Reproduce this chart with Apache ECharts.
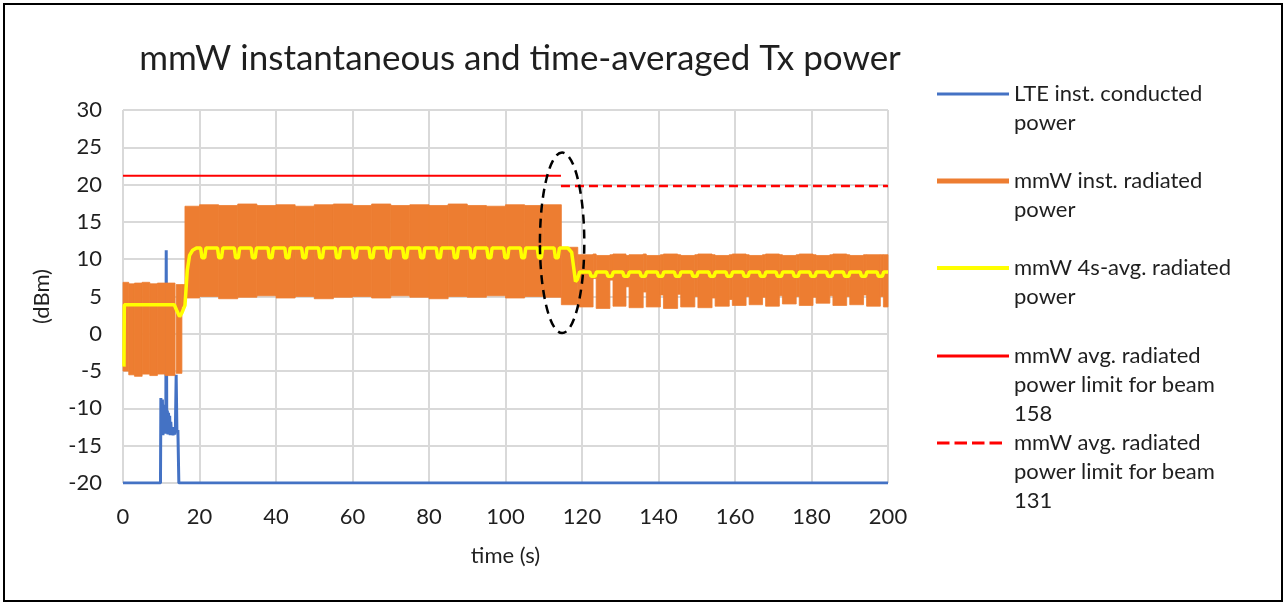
<!DOCTYPE html>
<html><head><meta charset="utf-8">
<script src="https://cdn.jsdelivr.net/npm/echarts@6/dist/echarts.min.js"></script>
<style>html,body{margin:0;padding:0;background:#fff}#c{width:1287px;height:606px}</style>
</head><body><div id="c"></div>
<script>
// ---------- DATA ----------
const seriesNames = [
  'LTE inst. conducted power',
  'mmW inst. radiated power',
  'mmW 4s-avg. radiated power',
  'mmW avg. radiated power limit for beam 158',
  'mmW avg. radiated power limit for beam 131'
];
const legendLabels = [
  'LTE inst. conducted\npower',
  'mmW inst. radiated\npower',
  'mmW 4s-avg. radiated\npower',
  'mmW avg. radiated\npower limit for beam\n158',
  'mmW avg. radiated\npower limit for beam\n131'
];

// LTE instantaneous conducted power [time s, dBm]
const ltePoints = [
  [0,-20],[9.8,-20],[9.9,-8.6],[10.0,-13.5],[10.1,-9.0],[10.2,-13.2],[10.3,-8.8],[10.45,-13.6],
  [10.6,-9.5],[10.75,-13.0],[10.9,-10.0],[11.05,-13.4],[11.2,-11.0],[11.3,11.2],[11.45,-12.8],
  [11.6,-10.3],[11.75,-13.5],[11.9,-10.6],[12.05,-13.3],[12.2,-11.0],[12.35,-13.6],[12.5,-11.8],
  [12.7,-13.5],[12.9,-12.6],[13.1,-13.6],[13.3,-12.5],[13.5,-13.5],[13.7,-12.6],[13.9,-5.5],
  [14.1,-13.2],[14.35,-12.9],[14.6,-20],[200,-20]
];

// mmW instantaneous radiated power, drawn as a band: [t start, t end, low dBm, high dBm]
const instRegion1 = [
  [0,1.5,-5.0,6.9],[1.5,3,-5.5,6.7],[3,5,-5.7,6.8],[5,7,-5.4,6.9],[7,9,-5.6,6.7],
  [9,11,-5.4,6.8],[11,13.6,-5.6,6.8],[13.9,15.4,-5.3,6.6],[15.4,16.2,3.6,6.6]
];
const instRegion2 = [
  [16.2,20,4.8,17.1],[20,25,5.0,17.3],[25,30,4.7,17.2],[30,35,4.9,17.4],[35,40,5.1,17.2],
  [40,45,4.8,17.3],[45,50,5.0,17.1],[50,55,4.7,17.3],[55,60,4.9,17.4],[60,65,5.0,17.2],
  [65,70,4.8,17.4],[70,75,5.1,17.2],[75,80,4.9,17.3],[80,85,4.7,17.2],[85,90,5.0,17.4],
  [90,95,4.9,17.2],[95,100,5.1,17.1],[100,105,4.8,17.3],[105,110,5.0,17.2],[110,114.6,4.9,17.3]
];
const instRegion3 = [
  [114.6,118.9,3.9,11.6]
];
const instRegion4 = [
  [118.9,122.9,3.6,10.6],[122.9,123.7,7.4,10.7],[123.7,127.3,3.4,10.5],[127.3,128.1,7.2,10.6],
  [128.1,131.5,3.7,10.7],[131.5,132.3,6.3,10.5],[132.3,136.0,3.5,10.6],[136.0,136.8,5.6,10.7],
  [136.8,140.5,3.6,10.5],[140.5,141.3,5.2,10.6],[141.3,145.0,3.4,10.7],[145.0,145.8,5.3,10.6],
  [145.8,149.5,3.6,10.5],[149.5,150.3,5.0,10.6],[150.3,154.0,3.5,10.7],[154.0,154.8,4.8,10.6],
  [154.8,158.5,3.7,10.5],[158.5,159.3,4.6,10.6],[159.3,162.9,3.8,10.7],[162.9,163.7,5.0,10.6],
  [163.7,167.2,3.9,10.5],[167.2,168.0,4.9,10.6],[168.0,171.6,3.7,10.7],[171.6,172.4,5.1,10.6],
  [172.4,176.0,4.0,10.5],[176.0,176.8,5.0,10.6],[176.8,180.4,3.8,10.7],[180.4,181.2,4.9,10.6],
  [181.2,184.8,4.1,10.5],[184.8,185.6,5.1,10.6],[185.6,189.2,3.8,10.7],[189.2,190.0,5.0,10.6],
  [190.0,193.6,3.9,10.5],[193.6,194.4,5.2,10.6],[194.4,198.0,3.7,10.6],[198.0,198.8,5.0,10.6],
  [198.8,200,3.6,10.6]
];

// mmW 4 s averaged radiated power [time s, dBm]
const avgRegion1 = [
  [0.25,-4.4],[0.35,3.9],[13.4,3.9],[14.0,3.2],[14.8,2.3],[15.4,2.8],[16.2,3.8],[16.8,8.5],
  [17.4,10.5],[18.2,11.2],[19.2,11.5]
];
const avgRegion2 = [
  [20.3,11.5],[20.65,10.2],[21.35,10.2],[21.7,11.5],
  [24.7,11.5],[25.05,10.2],[25.75,10.2],[26.1,11.5],
  [29.1,11.5],[29.45,10.2],[30.15,10.2],[30.5,11.5],
  [33.5,11.5],[33.85,10.2],[34.55,10.2],[34.9,11.5],
  [37.9,11.5],[38.25,10.2],[38.95,10.2],[39.3,11.5],
  [42.3,11.5],[42.65,10.2],[43.35,10.2],[43.7,11.5],
  [46.7,11.5],[47.05,10.2],[47.75,10.2],[48.1,11.5],
  [51.1,11.5],[51.45,10.2],[52.15,10.2],[52.5,11.5],
  [55.5,11.5],[55.85,10.2],[56.55,10.2],[56.9,11.5],
  [59.9,11.5],[60.25,10.2],[60.95,10.2],[61.3,11.5],
  [64.3,11.5],[64.65,10.2],[65.35,10.2],[65.7,11.5],
  [68.7,11.5],[69.05,10.2],[69.75,10.2],[70.1,11.5],
  [73.1,11.5],[73.45,10.2],[74.15,10.2],[74.5,11.5],
  [77.5,11.5],[77.85,10.2],[78.55,10.2],[78.9,11.5],
  [81.9,11.5],[82.25,10.2],[82.95,10.2],[83.3,11.5],
  [86.3,11.5],[86.65,10.2],[87.35,10.2],[87.7,11.5],
  [90.7,11.5],[91.05,10.2],[91.75,10.2],[92.1,11.5],
  [95.1,11.5],[95.45,10.2],[96.15,10.2],[96.5,11.5],
  [99.5,11.5],[99.85,10.2],[100.55,10.2],[100.9,11.5],
  [103.9,11.5],[104.25,10.2],[104.95,10.2],[105.3,11.5],
  [108.3,11.5],[108.65,10.2],[109.35,10.2],[109.7,11.5],
  [112.7,11.5],[113.05,10.2],[113.75,10.2],[114.1,11.5]
];
const avgRegion3 = [
  [116.3,11.5],[117.3,10.9],[117.8,9.0],[118.3,7.0],[118.8,7.3],[119.4,8.3]
];
const avgRegion4 = [
  [122.0,8.3],[122.4,7.7],[123.4,7.7],[123.8,8.3],
  [126.4,8.3],[126.8,7.7],[127.8,7.7],[128.2,8.3],
  [130.6,8.3],[131.0,7.7],[132.0,7.7],[132.4,8.3],
  [135.1,8.3],[135.5,7.7],[136.5,7.7],[136.9,8.3],
  [139.6,8.3],[140.0,7.7],[141.0,7.7],[141.4,8.3],
  [144.1,8.3],[144.5,7.7],[145.5,7.7],[145.9,8.3],
  [148.6,8.3],[149.0,7.7],[150.0,7.7],[150.4,8.3],
  [153.1,8.3],[153.5,7.7],[154.5,7.7],[154.9,8.3],
  [157.6,8.3],[158.0,7.7],[159.0,7.7],[159.4,8.3],
  [162.0,8.3],[162.4,7.7],[163.4,7.7],[163.8,8.3],
  [166.3,8.3],[166.7,7.7],[167.7,7.7],[168.1,8.3],
  [170.7,8.3],[171.1,7.7],[172.1,7.7],[172.5,8.3],
  [175.1,8.3],[175.5,7.7],[176.5,7.7],[176.9,8.3],
  [179.5,8.3],[179.9,7.7],[180.9,7.7],[181.3,8.3],
  [183.9,8.3],[184.3,7.7],[185.3,7.7],[185.7,8.3],
  [188.3,8.3],[188.7,7.7],[189.7,7.7],[190.1,8.3],
  [192.7,8.3],[193.1,7.7],[194.1,7.7],[194.5,8.3],
  [197.1,8.3],[197.5,7.7],[198.5,7.7],[198.9,8.3],
  [200,8.3]
];

// average power limits [time s, dBm]
const limitBeam158 = [[0,21.2],[114.5,21.2]];
const limitBeam131 = [[114.5,19.8],[200,19.8]];

// dashed ellipse annotation: centre and radii in data units
const ellipseCenter = [114.8, 12.2];
const ellipseRadius = [5.8, 12.1];

// ---------- CHART ----------
const FONT = 'Lato';
const TXT = '#1f1f1f';
const COLORS = ['#4472c4', '#ed7d31', '#ffff00', '#ff0000', '#ff0000'];
const chart = echarts.init(document.getElementById('c'), null, {renderer: 'canvas'});

const legendTops = [50.5, 137.5, 224.5, 283.5, 370.5];
const legendIconH = [3, 5, 4, 3, 3];
const dashIcon = 'path://M0,0H12.5V3H0Z M17.5,0H30V3H17.5Z M35,0H47.5V3H35Z M52.5,0H65V3H52.5Z M71.99,0H72V3H71.99Z';
const legends = seriesNames.map(function(name, i){
  const lines = legendLabels[i].split('\n').length;
  const lead = new Array(lines).join('\n');
  return {
    data: [{name: name, icon: i === 4 ? dashIcon : 'rect', itemStyle: {color: COLORS[i], borderWidth: 0}}],
    orient: 'vertical',
    left: 937,
    top: legendTops[i],
    padding: 0,
    itemWidth: 72,
    itemHeight: legendIconH[i],
    formatter: function(){ return lead + legendLabels[i]; },
    textStyle: {fontFamily: FONT, fontSize: 22, lineHeight: 29, color: TXT}
  };
});

const option = {
  animation: false,
  backgroundColor: '#ffffff',
  title: {
    text: 'mmW instantaneous and time-averaged Tx power',
    left: 520, top: 41, textAlign: 'center', padding: 0,
    textStyle: {fontFamily: FONT, fontSize: 35, fontWeight: 'normal', color: TXT}
  },
  legend: legends,
  grid: {left: 123, right: 399, top: 110, bottom: 123, containLabel: false},
  xAxis: {
    type: 'value', min: 0, max: 200, interval: 20,
    name: 'time (s)', nameLocation: 'middle', nameGap: 62,
    nameTextStyle: {fontFamily: FONT, fontSize: 22, color: TXT},
    axisLine: {show: false}, axisTick: {show: false},
    axisLabel: {fontFamily: FONT, fontSize: 22, color: TXT, margin: 23},
    splitLine: {show: true, lineStyle: {color: '#d9d9d9', width: 2}}
  },
  yAxis: {
    type: 'value', min: -20, max: 30, interval: 5,
    name: '(dBm)', nameLocation: 'middle', nameGap: 70, nameRotate: 90,
    nameTextStyle: {fontFamily: FONT, fontSize: 22, color: TXT},
    axisLine: {show: false}, axisTick: {show: false},
    axisLabel: {fontFamily: FONT, fontSize: 22, color: TXT, margin: 21},
    splitLine: {show: true, lineStyle: {color: '#d9d9d9', width: 2}}
  },
  series: [
    {
      name: seriesNames[0], type: 'line', data: ltePoints, symbol: 'none', showSymbol: false,
      lineStyle: {color: COLORS[0], width: 3}, itemStyle: {color: COLORS[0]}, z: 2
    },
    {
      name: seriesNames[1], type: 'custom', z: 3,
      data: instRegion1.concat(instRegion2, instRegion3, instRegion4),
      encode: {x: [0, 1], y: [2, 3]},
      itemStyle: {color: COLORS[1]},
      renderItem: function(params, api){
        const a = api.coord([api.value(0), api.value(3)]);
        const b = api.coord([api.value(1), api.value(2)]);
        return {
          type: 'rect',
          shape: {x: a[0], y: a[1], width: b[0] - a[0], height: b[1] - a[1]},
          style: {fill: COLORS[1], stroke: COLORS[1], lineWidth: 0.8}
        };
      }
    },
    {
      name: seriesNames[2], type: 'line', symbol: 'none', showSymbol: false, z: 4,
      data: avgRegion1.concat(avgRegion2, avgRegion3, avgRegion4),
      lineStyle: {color: COLORS[2], width: 3.5}, itemStyle: {color: COLORS[2]}
    },
    {
      name: seriesNames[3], type: 'line', symbol: 'none', showSymbol: false, z: 5,
      data: limitBeam158,
      lineStyle: {color: COLORS[3], width: 2}, itemStyle: {color: COLORS[3]}
    },
    {
      name: seriesNames[4], type: 'line', symbol: 'none', showSymbol: false, z: 5,
      data: limitBeam131,
      lineStyle: {color: COLORS[4], width: 2.5, type: [9, 5]}, itemStyle: {color: COLORS[4]}
    }
  ]
};
chart.setOption(option);

const c0 = chart.convertToPixel({gridIndex: 0}, ellipseCenter);
const c1 = chart.convertToPixel({gridIndex: 0}, [ellipseCenter[0] + ellipseRadius[0], ellipseCenter[1] + ellipseRadius[1]]);
chart.setOption({
  graphic: [
    {
      type: 'rect', silent: true, z: 100,
      shape: {x: 4, y: 4, width: 1278, height: 597},
      style: {fill: 'none', stroke: '#000', lineWidth: 2}
    },
    {
      type: 'ellipse', silent: true, z: 100,
      shape: {cx: c0[0], cy: c0[1], rx: Math.abs(c1[0] - c0[0]), ry: Math.abs(c1[1] - c0[1])},
      style: {fill: 'none', stroke: '#000', lineWidth: 2.5, lineDash: [9, 6]}
    }
  ]
});
</script>
</body></html>
